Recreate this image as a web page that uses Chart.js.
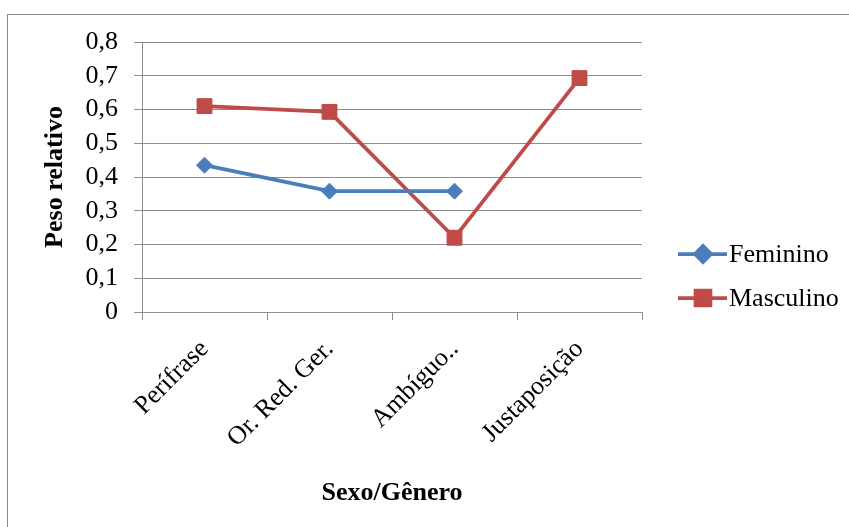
<!DOCTYPE html>
<html>
<head>
<meta charset="utf-8">
<script src="https://cdn.jsdelivr.net/npm/chart.js@4/dist/chart.umd.min.js"></script>
<style>
  html, body { margin: 0; padding: 0; background: #fff; }
  #wrap { width: 849px; height: 527px; }
</style>
</head>
<body>
<div id="wrap"><canvas id="c" width="849" height="527"></canvas></div>
<script>
// Categories and series values
const categories = ['Perífrase', 'Or. Red. Ger.', 'Ambíguo..', 'Justaposição'];
const feminino = [0.435, 0.358, 0.358, null];
const masculino = [0.61, 0.593, 0.22, 0.693];
const seriesNames = ['Feminino', 'Masculino'];
const yTitle = 'Peso relativo';
const xTitle = 'Sexo/Gênero';

const BLUE = '#4a7ebb';
const RED = '#be4b48';
const GRID = '#8c8c8c';
const FONT = '"Liberation Serif", "Times New Roman", serif';
const FSIZE = 26;

// Outer frame around the chart
const framePlugin = {
  id: 'frame',
  beforeDraw(chart) {
    const ctx = chart.ctx;
    ctx.save();
    ctx.fillStyle = '#fff';
    ctx.fillRect(0, 0, chart.width, chart.height);
    ctx.strokeStyle = '#8a8a8a';
    ctx.lineWidth = 1;
    ctx.strokeRect(7.5, 14.5, chart.width + 20, chart.height + 20);
    ctx.restore();
  }
};

// Legend with a line segment and marker for each series
const lineLegend = {
  id: 'lineLegend',
  afterDraw(chart) {
    const ctx = chart.ctx;
    const x0 = chart.chartArea.right + 36;
    const rows = [254, 298];
    ctx.save();
    chart.data.datasets.forEach((ds, i) => {
      const y = rows[i];
      ctx.strokeStyle = ds.borderColor;
      ctx.lineWidth = ds.borderWidth;
      ctx.beginPath();
      ctx.moveTo(x0, y);
      ctx.lineTo(x0 + 49, y);
      ctx.stroke();
      ctx.fillStyle = ds.pointBackgroundColor;
      ctx.strokeStyle = ds.pointBorderColor;
      Chart.helpers.drawPoint(ctx, {
        pointStyle: ds.pointStyle,
        radius: ds.pointRadius,
        rotation: 0,
        borderWidth: 1
      }, x0 + 25, y);
      ctx.fillStyle = '#000';
      ctx.font = FSIZE + 'px ' + FONT;
      ctx.textAlign = 'left';
      ctx.textBaseline = 'middle';
      ctx.fillText(ds.label, x0 + 51, y + 1);
    });
    ctx.restore();
  }
};

new Chart(document.getElementById('c'), {
  type: 'line',
  data: {
    labels: categories,
    datasets: [
      {
        label: seriesNames[0],
        data: feminino,
        borderColor: BLUE,
        backgroundColor: BLUE,
        borderWidth: 3.75,
        pointStyle: 'rectRot',
        pointRadius: 8,
        pointHoverRadius: 8,
        pointBackgroundColor: BLUE,
        pointBorderColor: BLUE,
        pointBorderWidth: 1,
        tension: 0,
        spanGaps: false
      },
      {
        label: seriesNames[1],
        data: masculino,
        borderColor: RED,
        backgroundColor: RED,
        borderWidth: 3.75,
        pointStyle: 'rect',
        pointRadius: 10.5,
        pointHoverRadius: 10.5,
        pointBackgroundColor: RED,
        pointBorderColor: RED,
        pointBorderWidth: 1,
        tension: 0
      }
    ]
  },
  options: {
    responsive: false,
    animation: false,
    events: [],
    layout: { padding: { top: 42, right: 207, bottom: 0, left: 0 } },
    plugins: {
      legend: { display: false },
      tooltip: { enabled: false }
    },
    scales: {
      x: {
        type: 'category',
        offset: true,
        grid: {
          offset: true,
          drawOnChartArea: false,
          drawTicks: true,
          tickLength: 8,
          color: GRID
        },
        border: { display: true, color: GRID, width: 1 },
        ticks: {
          autoSkip: false,
          minRotation: 45,
          maxRotation: 45,
          padding: 14,
          color: '#000',
          font: { family: FONT, size: FSIZE }
        },
        title: {
          display: true,
          text: xTitle,
          color: '#000',
          font: { family: FONT, size: FSIZE, weight: 'bold' },
          padding: { top: 0, bottom: 18 }
        },
        afterFit(scale) { scale.height = 215; }
      },
      y: {
        min: 0,
        max: 0.8,
        grid: {
          color: GRID,
          lineWidth: 1,
          drawTicks: true,
          tickLength: 8
        },
        border: { display: true, color: GRID, width: 1 },
        ticks: {
          stepSize: 0.1,
          autoSkip: false,
          padding: 16,
          color: '#000',
          font: { family: FONT, size: FSIZE, lineHeight: 1 },
          callback: (v) => (v === 0 ? '0' : v.toFixed(1).replace('.', ','))
        },
        title: {
          display: true,
          text: yTitle,
          color: '#000',
          font: { family: FONT, size: FSIZE, weight: 'bold' },
          padding: { top: 40, bottom: 0 }
        },
        afterFit(scale) { scale.width = 142; }
      }
    }
  },
  plugins: [framePlugin, lineLegend]
});
</script>
</body>
</html>
